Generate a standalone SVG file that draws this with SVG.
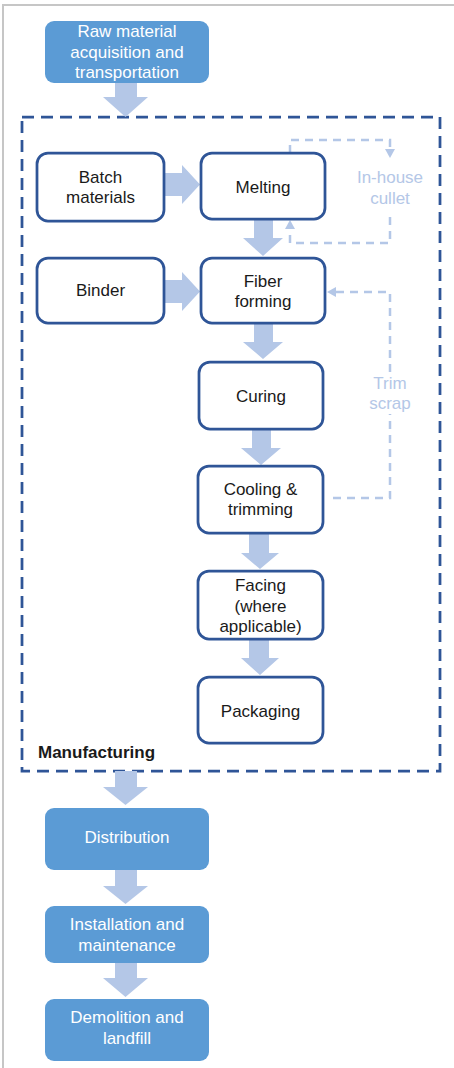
<svg xmlns="http://www.w3.org/2000/svg" width="454" height="1068" viewBox="0 0 454 1068">
<defs>
<style>
.frame{stroke:#c6c6c6;stroke-width:2;fill:none}
.mbox{fill:none;stroke:#2f5597;stroke-width:2.75;stroke-dasharray:12 7}
.node{fill:#fff;stroke:#2f5597;stroke-width:2.75}
.fnode{fill:#5b9bd5}
.big{fill:#b4c7e7}
.dash{fill:none;stroke:#b4c7e7;stroke-width:2.5;stroke-dasharray:8 6}
.t{font-family:"Liberation Sans",Arial,sans-serif;font-size:17px;fill:#1a1a1a;text-anchor:middle}
.w{font-family:"Liberation Sans",Arial,sans-serif;font-size:17px;fill:#fff;text-anchor:middle}
.l{font-family:"Liberation Sans",Arial,sans-serif;font-size:17px;fill:#b4c7e7;text-anchor:middle}
.b{font-family:"Liberation Sans",Arial,sans-serif;font-size:17px;font-weight:bold;fill:#1a1a1a}
</style>
</defs>
<path class="frame" d="M3,1068 V5 H454"/>
<g id="manufacturing">
<rect class="mbox" x="22" y="117" width="418" height="654"/>
<text class="b" x="38" y="758">Manufacturing</text>
</g>
<g id="connectors">
<path class="big" d="M115,83 H137 V97 H148 L125.5,117 L103,97 H115 Z"/>
<path class="big" d="M164,173 H182 V165 L200,184.5 L182,204 V196 H164 Z"/>
<path class="big" d="M164,280 H182 V272 L200,291.5 L182,311 V303 H164 Z"/>
<path class="big" d="M254,219 H273 V238 H283 L263,256 L243,238 H254 Z"/>
<path class="big" d="M254,323 H273 V342 H283 L263,359 L243,342 H254 Z"/>
<path class="big" d="M252,429 H271 V448 H281 L261,465 L241,448 H252 Z"/>
<path class="big" d="M249,533 H269 V553 H279 L260,569 L241,553 H249 Z"/>
<path class="big" d="M249,639 H269 V658 H279 L260,675 L241,658 H249 Z"/>
<path class="big" d="M115,771 H137 V787 H148 L125.5,805 L103,787 H115 Z"/>
<path class="big" d="M115,870 H137 V886 H148 L125.5,904 L103,886 H115 Z"/>
<path class="big" d="M115,963 H137 V978 H148 L125.5,997 L103,978 H115 Z"/>
<path class="dash" d="M290,153 V140 H390 V150"/>
<path d="M385,149 L395,149 L390,158 Z" fill="#b4c7e7"/>
<path class="dash" d="M390,217 V243 H290 V228"/>
<path d="M285,229 L295,229 L290,220 Z" fill="#b4c7e7"/>
<path class="dash" d="M333,498 H390 V414"/>
<path class="dash" d="M390,372 V292 H336"/>
<path d="M336,287 L336,297 L327,292 Z" fill="#b4c7e7"/>
</g>
<g id="raw">
<rect class="fnode" x="45" y="21" width="164" height="62" rx="9"/>
<text class="w" x="127" y="37">Raw material</text>
<text class="w" x="127" y="58">acquisition and</text>
<text class="w" x="127" y="78">transportation</text>
</g>
<g id="batch">
<rect class="node" x="37" y="153" width="127" height="68" rx="11"/>
<text class="t" x="100.5" y="183">Batch</text>
<text class="t" x="100.5" y="203">materials</text>
</g>
<g id="melting">
<rect class="node" x="201" y="153" width="124" height="66" rx="11"/>
<text class="t" x="263" y="193">Melting</text>
</g>
<g id="cullet">
<text class="l" x="390" y="183">In-house</text>
<text class="l" x="390" y="204">cullet</text>
</g>
<g id="binder">
<rect class="node" x="37" y="258" width="127" height="65" rx="11"/>
<text class="t" x="100.5" y="296">Binder</text>
</g>
<g id="fiber">
<rect class="node" x="201" y="258" width="124" height="65" rx="11"/>
<text class="t" x="263" y="287">Fiber</text>
<text class="t" x="263" y="307">forming</text>
</g>
<g id="trim">
<text class="l" x="390" y="389">Trim</text>
<text class="l" x="390" y="409">scrap</text>
</g>
<g id="curing">
<rect class="node" x="199" y="362" width="124" height="67" rx="11"/>
<text class="t" x="261" y="402">Curing</text>
</g>
<g id="cooling">
<rect class="node" x="198" y="466" width="125" height="67" rx="11"/>
<text class="t" x="260.5" y="495">Cooling &amp;</text>
<text class="t" x="260.5" y="515">trimming</text>
</g>
<g id="facing">
<rect class="node" x="198" y="571" width="125" height="68" rx="11"/>
<text class="t" x="260.5" y="591">Facing</text>
<text class="t" x="260.5" y="612">(where</text>
<text class="t" x="260.5" y="632">applicable)</text>
</g>
<g id="packaging">
<rect class="node" x="198" y="677" width="125" height="66" rx="11"/>
<text class="t" x="260.5" y="717">Packaging</text>
</g>
<g id="distribution">
<rect class="fnode" x="45" y="808" width="164" height="62" rx="9"/>
<text class="w" x="127" y="843">Distribution</text>
</g>
<g id="installation">
<rect class="fnode" x="45" y="906" width="164" height="57" rx="9"/>
<text class="w" x="127" y="930">Installation and</text>
<text class="w" x="127" y="951">maintenance</text>
</g>
<g id="demolition">
<rect class="fnode" x="45" y="999" width="164" height="62" rx="9"/>
<text class="w" x="127" y="1023">Demolition and</text>
<text class="w" x="127" y="1044">landfill</text>
</g>
</svg>
